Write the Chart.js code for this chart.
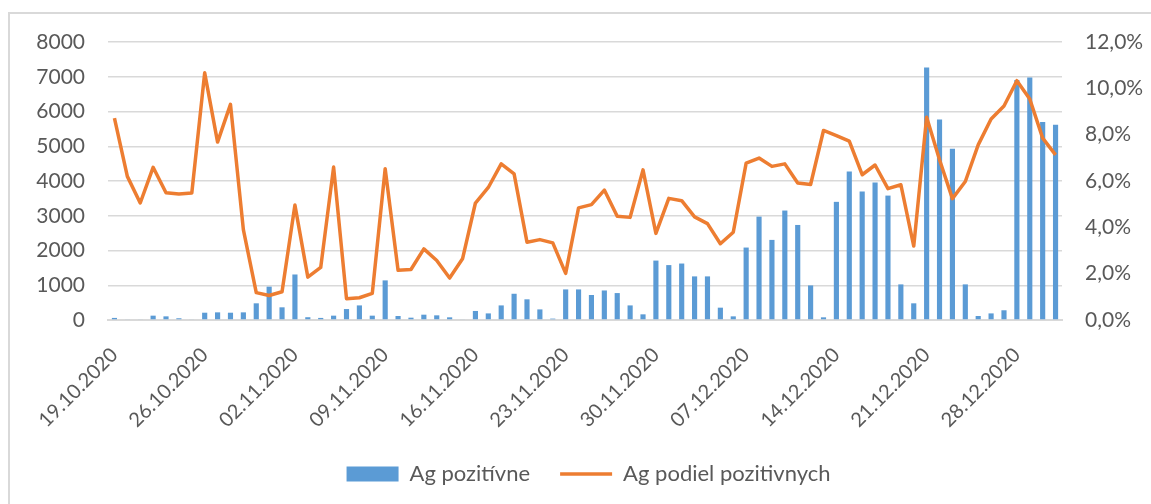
<!DOCTYPE html>
<html>
<head>
<meta charset="utf-8">
<script src="https://cdn.jsdelivr.net/npm/chart.js@4/dist/chart.umd.min.js"></script>
<style>
  body { margin: 0; background: #fff; }
  #wrap { position: relative; width: 1151px; height: 504px; overflow: hidden; }
  #frame { position: absolute; left: 8px; top: 12px; width: 1200px; height: 600px;
           border-top: 2px solid #d9d9d9; border-left: 2px solid #d9d9d9; }
  #graf { position: absolute; left: 0; top: 0; }
</style>
</head>
<body>
<div id="wrap">
  <div id="frame"></div>
  <canvas id="graf" width="1151" height="504"></canvas>
</div>
<script>
// dni
const dni = [
  "19.10.2020","20.10.2020","21.10.2020","22.10.2020","23.10.2020","24.10.2020","25.10.2020",
  "26.10.2020","27.10.2020","28.10.2020","29.10.2020","30.10.2020","31.10.2020","01.11.2020",
  "02.11.2020","03.11.2020","04.11.2020","05.11.2020","06.11.2020","07.11.2020","08.11.2020",
  "09.11.2020","10.11.2020","11.11.2020","12.11.2020","13.11.2020","14.11.2020","15.11.2020",
  "16.11.2020","17.11.2020","18.11.2020","19.11.2020","20.11.2020","21.11.2020","22.11.2020",
  "23.11.2020","24.11.2020","25.11.2020","26.11.2020","27.11.2020","28.11.2020","29.11.2020",
  "30.11.2020","01.12.2020","02.12.2020","03.12.2020","04.12.2020","05.12.2020","06.12.2020",
  "07.12.2020","08.12.2020","09.12.2020","10.12.2020","11.12.2020","12.12.2020","13.12.2020",
  "14.12.2020","15.12.2020","16.12.2020","17.12.2020","18.12.2020","19.12.2020","20.12.2020",
  "21.12.2020","22.12.2020","23.12.2020","24.12.2020","25.12.2020","26.12.2020","27.12.2020",
  "28.12.2020","29.12.2020","30.12.2020","31.12.2020"
];

// Ag pozitivne (pocet)
const agPozitivne = [
  60, 20, 20, 125, 105, 50, 20, 210, 220, 210, 220, 480, 960, 365, 1310, 80, 60, 125, 315,
  420, 125, 1140, 115, 67, 153, 134, 77, 20, 260, 190, 420, 755, 595, 305, 40, 880, 880, 720, 850, 775, 420,
  163, 1710, 1580, 1625, 1255, 1255, 355, 105, 2085, 2975, 2305, 3150, 2735, 995, 77, 3400, 4270, 3700, 3960, 3580, 1025,
  480, 7265, 5770, 4930, 1025, 115, 190, 280, 6910, 6975, 5700, 5620
];

// Ag podiel pozitivnych (%)
const agPodiel = [
  8.71, 6.20, 5.05, 6.59, 5.49, 5.44, 5.48, 10.67, 7.68, 9.31, 3.90, 1.18, 1.06, 1.22, 4.96, 1.85, 2.27, 6.60, 0.92,
  0.96, 1.15, 6.53, 2.15, 2.18, 3.07, 2.57, 1.81, 2.64, 5.05, 5.72, 6.74, 6.31, 3.36, 3.47, 3.33, 2.01, 4.84, 4.98, 5.61, 4.48, 4.43,
  6.48, 3.74, 5.25, 5.15, 4.45, 4.16, 3.29, 3.79, 6.77, 6.99, 6.63, 6.74, 5.91, 5.85, 8.18, 7.96, 7.72, 6.27, 6.69, 5.67, 5.84,
  3.19, 8.75, 6.92, 5.24, 5.98, 7.56, 8.68, 9.24, 10.33, 9.54, 7.85, 7.13
];

const sivaText = "#595959";
const sivaMriezka = "#d9d9d9";
const pismo = { family: "Lato", size: 21 };

Chart.defaults.font.family = "Lato";
Chart.defaults.color = sivaText;

const graf = new Chart(document.getElementById("graf").getContext("2d"), {
  data: {
    labels: dni,
    datasets: [
      {
        type: "line",
        label: "Ag podiel pozitivnych",
        data: agPodiel,
        yAxisID: "yPct",
        borderColor: "#ed7d31",
        backgroundColor: "#ed7d31",
        borderWidth: 3.5,
        pointRadius: 0,
        pointStyle: "line",
        tension: 0,
        borderJoinStyle: "round",
        order: 1
      },
      {
        type: "bar",
        label: "Ag pozitívne",
        data: agPozitivne,
        yAxisID: "y",
        backgroundColor: "#5b9bd5",
        borderWidth: 0,
        pointStyle: "rect",
        categoryPercentage: 1,
        barPercentage: 0.4,
        order: 2
      }
    ]
  },
  options: {
    responsive: false,
    animation: false,
    layout: { padding: { top: 42, bottom: 9, left: 26, right: 0 } },
    plugins: {
      tooltip: { enabled: false },
      legend: {
        position: "bottom",
        reverse: true,
        labels: {
          usePointStyle: true,
          pointStyleWidth: 52,
          boxHeight: 15,
          padding: 30,
          color: sivaText,
          font: { family: "Lato", size: 22 }
        }
      }
    },
    scales: {
      x: {
        offset: true,
        grid: { display: false },
        border: { display: true, color: sivaMriezka, width: 2 },
        ticks: {
          autoSkip: false,
          minRotation: 45,
          maxRotation: 45,
          padding: 15,
          font: { family: "Lato", size: 20 },
          color: sivaText,
          callback: function (v, i) { return i % 7 === 0 ? dni[i] : ""; }
        },
        afterFit: function (s) { s.height = 113; }
      },
      y: {
        position: "left",
        min: 0,
        max: 8000,
        ticks: {
          stepSize: 1000, padding: 23, font: pismo, color: sivaText,
          callback: function (v) { return String(v); }
        },
        grid: { color: sivaMriezka, lineWidth: 1.5, drawTicks: false },
        border: { display: false },
        afterFit: function (s) { s.width = 82; }
      },
      yPct: {
        position: "right",
        min: 0,
        max: 12,
        ticks: {
          stepSize: 2, padding: 23, font: pismo, color: sivaText,
          callback: function (v) { return v.toFixed(1).replace(".", ",") + "%"; }
        },
        grid: { display: false, drawTicks: false },
        border: { display: false },
        afterFit: function (s) { s.width = 89; }
      }
    }
  }
});
</script>
</body>
</html>
